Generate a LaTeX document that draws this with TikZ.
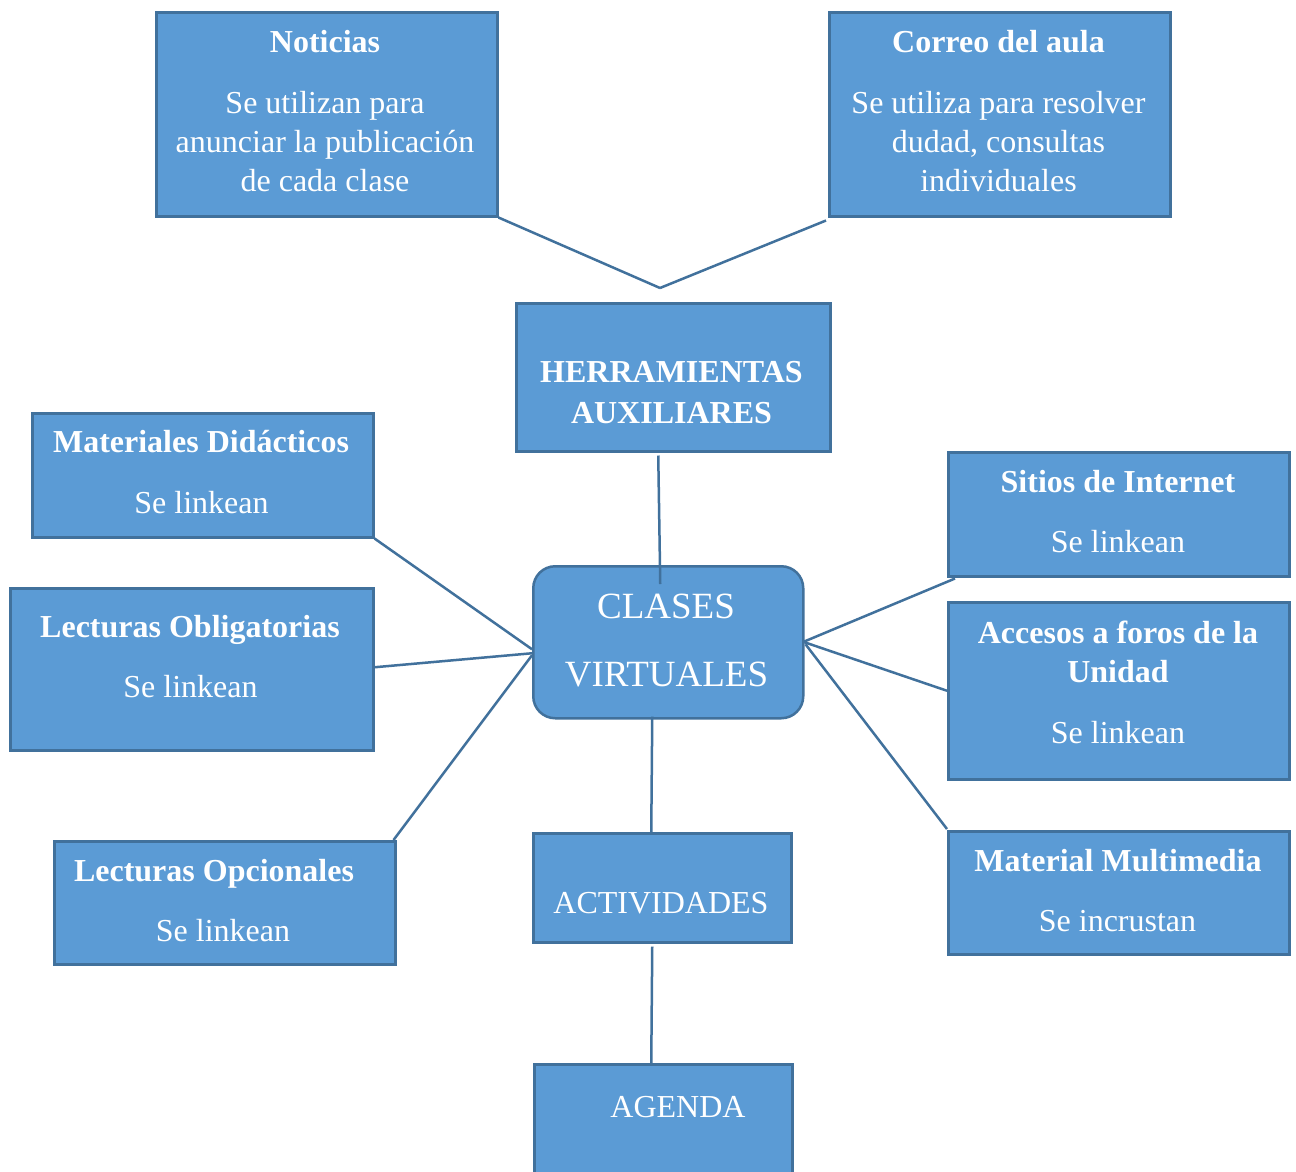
\documentclass[tikz,border=0pt]{standalone}
\usepackage{fontspec}
\setmainfont{Liberation Serif}
\definecolor{boxfill}{HTML}{5B9BD5}
\definecolor{boxline}{HTML}{41719C}
\begin{document}
\begin{tikzpicture}[x=1pt,y=-1pt,
  box/.style={draw=boxline,fill=boxfill,line width=2.5pt,anchor=north west,inner sep=0pt},
  conn/.style={draw=boxline,line width=2.5pt},
  bt/.style={text=white,anchor=base,inner sep=0pt,font=\fontsize{32}{39}\selectfont},
  tt/.style={bt,font=\fontsize{32}{39}\selectfont\bfseries},
  big/.style={bt,font=\fontsize{37}{44}\selectfont}]
\useasboundingbox[fill=white] (0,0) rectangle (1296,1171);

% boxes
\node[box,minimum width=341pt,minimum height=204pt] (noticias) at (155,11) {};
\node[box,minimum width=341pt,minimum height=204pt] (correo) at (828,11) {};
\node[box,minimum width=314pt,minimum height=148pt] (herr) at (515,302) {};
\node[box,minimum width=341pt,minimum height=124pt] (mat) at (31,412) {};
\node[box,minimum width=341pt,minimum height=124pt] (sitios) at (947,451) {};
\node[box,minimum width=270pt,minimum height=152pt,rounded corners=22pt] (clases) at (532,565) {};
\node[box,minimum width=363pt,minimum height=162pt] (lobl) at (9,587) {};
\node[box,minimum width=341pt,minimum height=177pt] (acc) at (947,601) {};
\node[box,minimum width=341pt,minimum height=123pt] (lopc) at (53,840) {};
\node[box,minimum width=258pt,minimum height=109pt] (act) at (532,832) {};
\node[box,minimum width=341pt,minimum height=123pt] (mm) at (947,830) {};
\node[box,minimum width=258pt,minimum height=130pt] (agenda) at (533,1063) {};

% texts
\node[tt] (t1) at (325,52) {Noticias};
\node[bt] (t2) at (325,113) {Se utilizan para};
\node[bt] (t3) at (325,152) {anunciar la publicación};
\node[bt] (t4) at (325,191) {de cada clase};

\node[tt] (c1) at (998.5,52) {Correo del aula};
\node[bt] (c2) at (998.5,113) {Se utiliza para resolver};
\node[bt] (c3) at (998.5,152) {dudad, consultas};
\node[bt] (c4) at (998.5,191) {individuales};

\node[tt] (h1) at (671.5,382) {HERRAMIENTAS};
\node[tt] (h2) at (671.5,423) {AUXILIARES};

\node[tt] (m1) at (201,452) {Materiales Didácticos};
\node[bt] (m2) at (201.5,513) {Se linkean};

\node[tt] (o1) at (190,637) {Lecturas Obligatorias};
\node[bt] (o2) at (190.5,697) {Se linkean};

\node[tt] (p1) at (214,881) {Lecturas Opcionales};
\node[bt] (p2) at (223,941) {Se linkean};

\node[tt] (s1) at (1118,492) {Sitios de Internet};
\node[bt] (s2) at (1118,552) {Se linkean};

\node[tt] (a1) at (1118,643) {Accesos a foros de la};
\node[tt] (a2) at (1118,682) {Unidad};
\node[bt] (a3) at (1118,743) {Se linkean};

\node[tt] (u1) at (1118,871) {Material Multimedia};
\node[bt] (u2) at (1117.5,931) {Se incrustan};

\node[big] (v1) at (666,618) {CLASES};
\node[big] (v2) at (666.5,686) {VIRTUALES};

\node[bt] (ac1) at (661,913) {ACTIVIDADES};
\node[bt] (ag1) at (678,1117) {AGENDA};

% connectors
\coordinate (junction) at (660,288);
\draw[conn] (noticias.south east) -- (junction);
\draw[conn] ([xshift=-2pt,yshift=-3pt]correo.south west) -- (junction);
\draw[conn] ([xshift=-15pt,yshift=-3pt]herr.south) -- ([xshift=-8pt,yshift=-19pt]clases.north);
\draw[conn] (mat.south east) -- ([yshift=-7pt]clases.west);
\draw[conn] ([yshift=2pt]lobl.east) -- ([yshift=-11pt]clases.west);
\draw[conn] ([xshift=-3pt]lopc.north east) -- ([yshift=-13pt]clases.west);
\draw[conn] ([xshift=8pt,yshift=-1pt]sitios.south west) -- ([xshift=-2pt]clases.east);
\draw[conn] (acc.west) -- (clases.east);
\draw[conn] ([yshift=1pt]mm.north west) -- ([xshift=1pt,yshift=-2pt]clases.east);
\draw[conn] ([xshift=-16pt,yshift=3pt]clases.south) -- ([xshift=-11pt]act.north);
\draw[conn] ([xshift=-10pt,yshift=-3pt]act.south) -- ([xshift=-12pt]agenda.north);
\end{tikzpicture}
\end{document}
